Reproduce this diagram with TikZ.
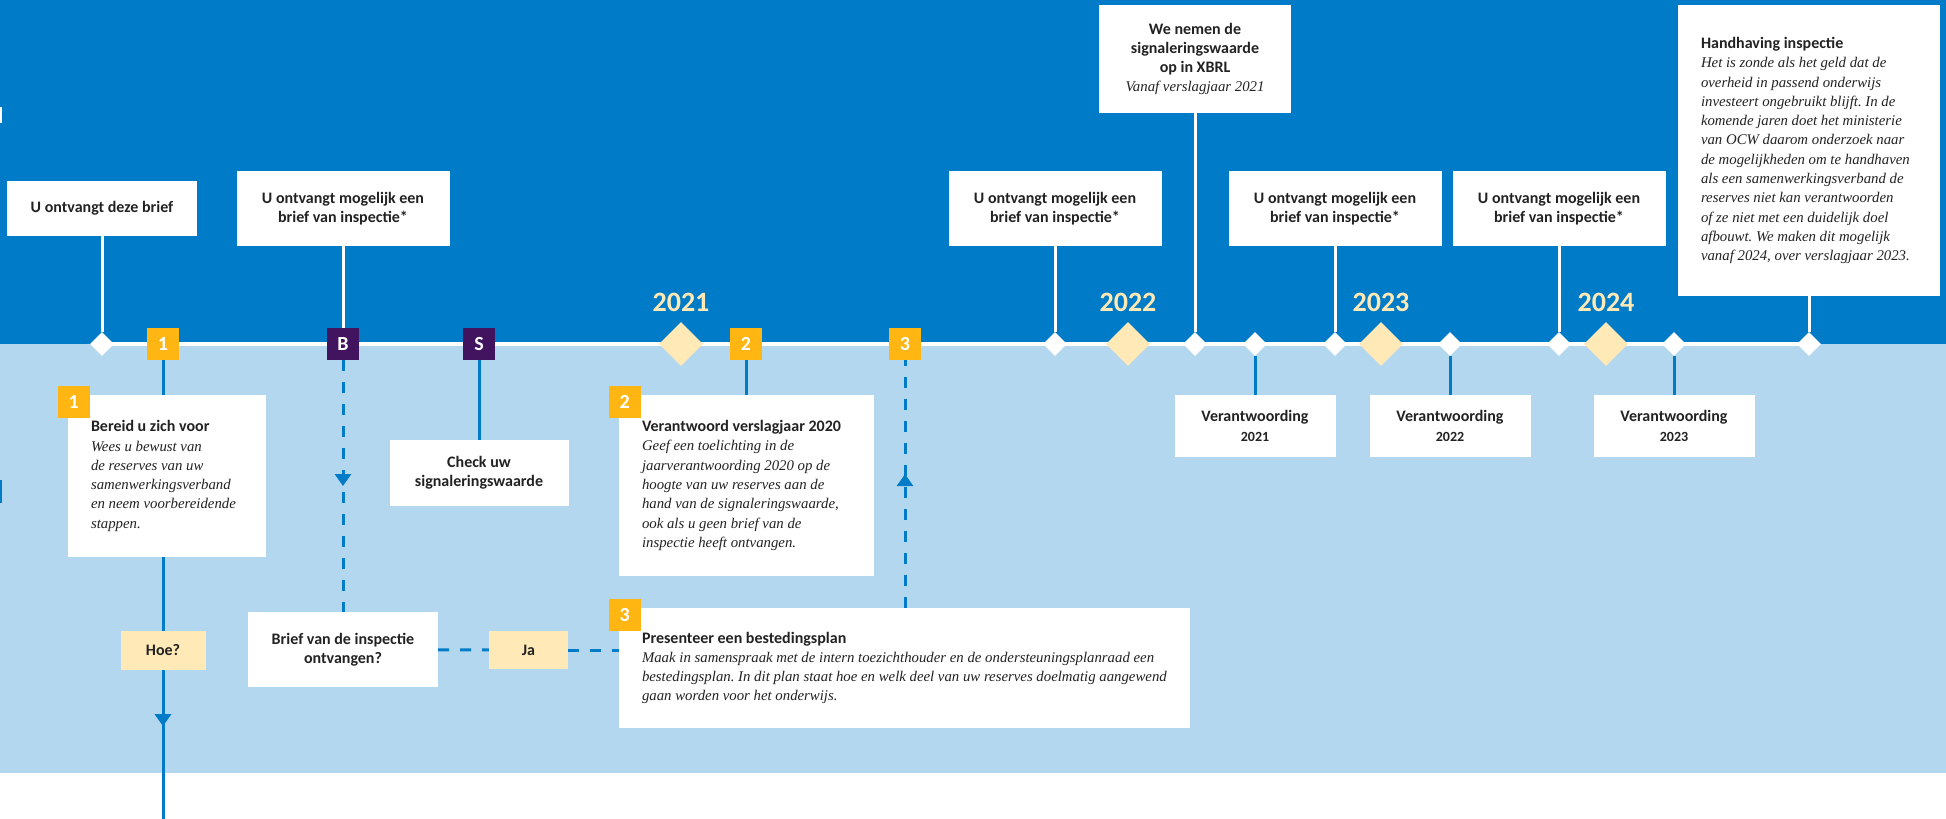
\documentclass[tikz,border=0pt]{standalone}
\usepackage{fontspec}
\setmainfont{Carlito}
\newfontfamily\roserif{Liberation Serif}
\usepackage{tikz}
\usetikzlibrary{positioning,shapes.geometric,arrows.meta,decorations.markings,backgrounds}
\definecolor{skyblue}{HTML}{007BC7}
\definecolor{paleblue}{HTML}{B2D7EE}
\definecolor{sun}{HTML}{FFB612}
\definecolor{plum}{HTML}{42145F}
\definecolor{cream}{HTML}{FFE9B7}
\definecolor{ink}{HTML}{222222}
\newcommand*{\desc}[1]{{\roserif\mdseries\itshape\fontsize{14.8}{19.3}\selectfont #1}}
\frenchspacing

\begin{document}
\begin{tikzpicture}[x=1pt, y=-1pt, >=latex,
    font=\bfseries\fontsize{16}{19.3}\selectfont,
    card/.style={fill=white, text=ink, inner sep=0pt, align=center},
    cardtext/.style={text=ink, inner sep=0pt, align=left},
    tagbox/.style={fill=cream, text=ink, inner sep=0pt, minimum height=38pt},
    numsq/.style={fill=sun, text=white, inner sep=0pt, minimum size=32pt, font=\bfseries\fontsize{20}{20}\selectfont},
    letsq/.style={numsq, fill=plum},
    notch/.style={diamond, aspect=1, fill=white, inner sep=0pt, minimum size=24pt},
    yearmark/.style={diamond, aspect=1, fill=cream, inner sep=0pt, minimum size=44pt},
    yearlabel/.style={text=cream, inner sep=0pt, font=\bfseries\fontsize{28}{28}\selectfont},
    stem/.style={draw=white, line width=3pt},
    link/.style={draw=skyblue, line width=3pt},
    dashlink/.style={link, dash pattern=on 11pt off 11pt},
    midarrow/.style={postaction={decorate}, decoration={markings, mark=at position #1 with {\arrow{Triangle[width=16pt,length=12pt]}}}}]
    \useasboundingbox (0,0) rectangle (1946,819);

    % timeline
    \foreach \x [count=\i] in {102,1055,1195,1255,1335,1450,1559,1674,1809}
        \node[notch] (t\i) at (\x,344) {};
    \foreach \x/\yr in {681/2021,1128/2022,1381/2023,1606/2024} {
        \node[yearmark] (d\yr) at (\x,344) {};
        \node[yearlabel, above=10pt of d\yr] (l\yr) {\yr};
    }
    \node[numsq] (one) at (163,344) {1};
    \node[letsq] (bee) at (343,344) {B};
    \node[letsq] (ess) at (479,344) {S};
    \node[numsq] (two) at (746,344) {2};
    \node[numsq] (three) at (905,344) {3};

    % upper cards
    \node[card, minimum width=190pt, minimum height=55pt] (rcv) at (102,208.5) {U ontvangt deze brief};
    \foreach \x/\n in {343/1,1055/2,1335/3,1559/4}
        \node[card, minimum width=213pt, minimum height=75pt] (insp\n) at (\x,208.5) {U ontvangt mogelijk een\\brief van inspectie*};
    \node[card, minimum width=192pt, minimum height=108pt] (xbrl) at (1195,59) {We nemen de\\signaleringswaarde\\op in XBRL\\\desc{Vanaf verslagjaar 2021}};
    \node[card, minimum width=262pt, minimum height=291pt] (hand) at (1809,150.5) {};
    \node[cardtext, right=23pt of hand.west] (handtext) {Handhaving inspectie\\
        \desc{Het is zonde als het geld dat de}\\
        \desc{overheid in passend onderwijs}\\
        \desc{investeert ongebruikt blijft. In de}\\
        \desc{komende jaren doet het ministerie}\\
        \desc{van OCW daarom onderzoek naar}\\
        \desc{de mogelijkheden om te handhaven}\\
        \desc{als een samenwerkingsverband de}\\
        \desc{reserves niet kan verantwoorden}\\
        \desc{of ze niet met een duidelijk doel}\\
        \desc{afbouwt. We maken dit mogelijk}\\
        \desc{vanaf 2024, over verslagjaar 2023.}};

    % lower cards
    \node[card, minimum width=198pt, minimum height=162pt] (prep) at (167,476) {};
    \node[numsq] (prepnum) at ([shift={(6,7)}]prep.north west) {1};
    \node[cardtext, right=23pt of prep.west] (preptext) {Bereid u zich voor\\
        \desc{Wees u bewust van}\\
        \desc{de reserves van uw}\\
        \desc{samenwerkingsverband}\\
        \desc{en neem voorbereidende}\\
        \desc{stappen.}};
    \node[card, minimum width=179pt, minimum height=66pt] (check) at (479,473) {Check uw\\signaleringswaarde};
    \node[card, minimum width=190pt, minimum height=75pt] (brief) at (343,649.5) {Brief van de inspectie\\ontvangen?};
    \node[tagbox, minimum width=79pt] (ja) at (528.5,650) {Ja};
    \node[tagbox, minimum width=85pt, minimum height=39pt] (hoe) at (163,650.5) {Hoe?};
    \coordinate (bottom) at (163,819);

    \node[card, minimum width=255pt, minimum height=181pt] (verant) at (746.5,485.5) {};
    \node[numsq] (verantnum) at ([shift={(6,7)}]verant.north west) {2};
    \node[cardtext, right=23pt of verant.west] (veranttext) {Verantwoord verslagjaar 2020\\
        \desc{Geef een toelichting in de}\\
        \desc{jaarverantwoording 2020 op de}\\
        \desc{hoogte van uw reserves aan de}\\
        \desc{hand van de signaleringswaarde,}\\
        \desc{ook als u geen brief van de}\\
        \desc{inspectie heeft ontvangen.}};
    \node[card, minimum width=571pt, minimum height=120pt] (plan) at (904.5,668) {};
    \node[numsq] (plannum) at ([shift={(6,7)}]plan.north west) {3};
    \node[cardtext, right=23pt of plan.west] (plantext) {Presenteer een bestedingsplan\\
        \desc{Maak in samenspraak met de intern toezichthouder en de ondersteuningsplanraad een}\\
        \desc{bestedingsplan. In dit plan staat hoe en welk deel van uw reserves doelmatig aangewend}\\
        \desc{gaan worden voor het onderwijs.}};

    \foreach \i/\yr in {4/2021,6/2022,8/2023}
        \node[card, minimum width=161pt, minimum height=62pt] (v\yr) at (t\i |- 0,426) {Verantwoording\\{\fontsize{14}{19.3}\selectfont\yr}};

    % white stems up to the cards
    \draw[stem] (rcv) -- (t1);
    \draw[stem] (insp1) -- (bee);
    \draw[stem] (insp2) -- (t2);
    \draw[stem] (xbrl) -- (t3);
    \draw[stem] (insp3) -- (t5);
    \draw[stem] (insp4) -- (t7);
    \draw[stem] (hand) -- (t9);

    % blue links
    \draw[link] (one) -- (one |- prep.north);
    \draw[link] (one |- prep.south) -- (hoe);
    \draw[link, midarrow=0.376] (hoe) -- (bottom);
    \draw[link] (ess) -- (check);
    \draw[link] (two) -- (two |- verant.north);
    \foreach \i/\yr in {4/2021,6/2022,8/2023}
        \draw[link] (t\i) -- (v\yr);
    \draw[dashlink, midarrow=0.5] (bee) -- (brief);
    \draw[dashlink, midarrow=0.54] (three |- plan.north) -- (three);
    \draw[dashlink] (brief) -- (ja);
    \draw[dashlink] (ja) -- (ja -| plan.west);

    \begin{pgfonlayer}{background}
        \fill[skyblue] (0,0) rectangle (1946,344);
        \fill[paleblue] (0,344) rectangle (1946,773);
        \fill[white] (0,773) rectangle (1946,819);
        \fill[white] (0,107) rectangle (2,123);
        \fill[skyblue] (0,480) rectangle (2,503);
        \draw[white, line width=4pt] (t1.center) -- (t9.center);
    \end{pgfonlayer}
\end{tikzpicture}
\end{document}
